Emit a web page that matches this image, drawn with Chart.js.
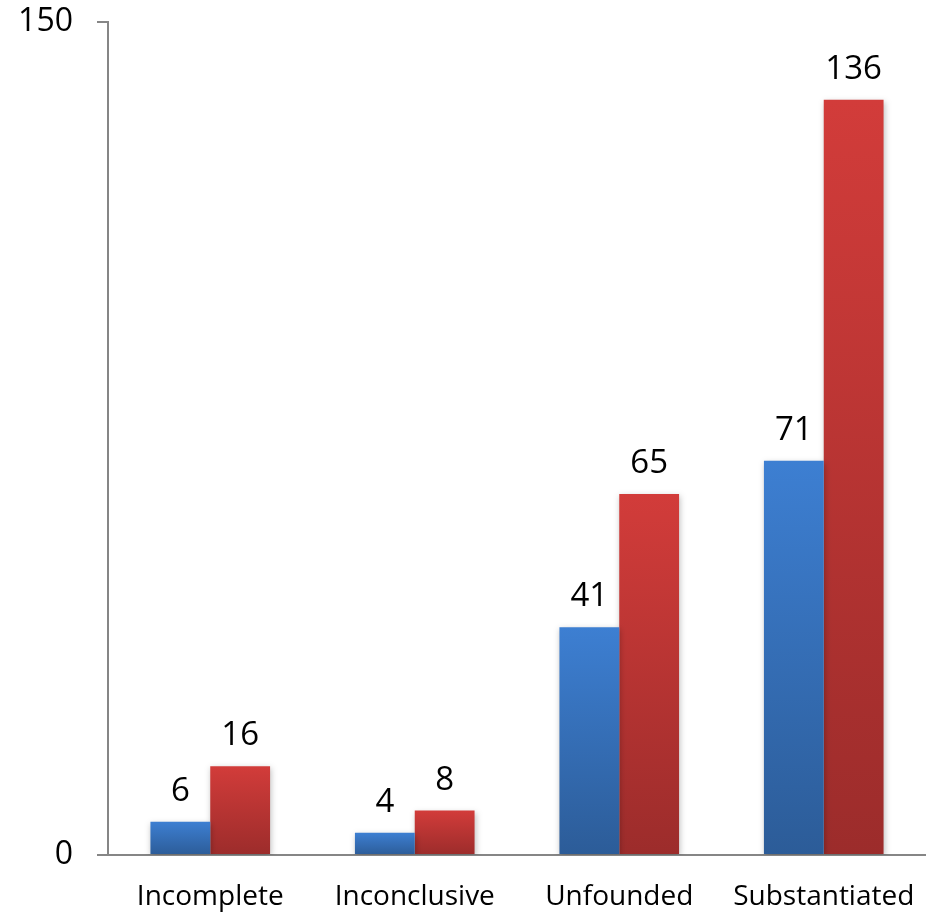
<!DOCTYPE html>
<html>
<head>
<meta charset="utf-8">
<script src="https://cdn.jsdelivr.net/npm/chart.js@4/dist/chart.umd.min.js"></script>
<style>
  html, body { margin: 0; padding: 0; background: #fff; }
  #wrap { width: 926px; height: 912px; }
</style>
</head>
<body>
<div id="wrap"><canvas id="chart"></canvas></div>
<script>
const categories = ['Incomplete', 'Inconclusive', 'Unfounded', 'Substantiated'];
const blueValues = [6, 4, 41, 71];
const redValues = [16, 8, 65, 136];
const yTicks = [0, 150];

const FONT = "'Open Sans', sans-serif";
const AXIS = '#868686';

// vertical gradient per bar, lighter at the top
function barGradient(top, bottom) {
  return ctx => {
    const chart = ctx.chart;
    if (!chart.chartArea || ctx.parsed == null) return top;
    const y = chart.scales.y;
    const y0 = y.getPixelForValue(ctx.parsed.y);
    const y1 = y.getPixelForValue(0);
    const g = chart.ctx.createLinearGradient(0, y0, 0, Math.max(y1, y0 + 1));
    g.addColorStop(0, top);
    g.addColorStop(1, bottom);
    return g;
  };
}

// value labels above each bar
const valueLabels = {
  id: 'valueLabels',
  afterDatasetsDraw(chart) {
    const c = chart.ctx;
    c.save();
    c.font = '33px ' + FONT;
    c.fillStyle = '#000';
    c.textAlign = 'center';
    c.textBaseline = 'alphabetic';
    chart.data.datasets.forEach((ds, i) => {
      chart.getDatasetMeta(i).data.forEach((bar, j) => {
        c.fillText(String(ds.data[j]), bar.x, bar.y - 21);
      });
    });
    c.restore();
  }
};

// soft shadow under the bars
const barShadow = {
  id: 'barShadow',
  beforeDatasetsDraw(chart) {
    const c = chart.ctx;
    c.save();
    c.shadowColor = 'rgba(0,0,0,0.25)';
    c.shadowBlur = 6;
    c.shadowOffsetX = 1;
    c.shadowOffsetY = 2;
  },
  afterDatasetsDraw(chart) {
    chart.ctx.restore();
  }
};

new Chart(document.getElementById('chart'), {
  type: 'bar',
  data: {
    labels: categories,
    datasets: [
      {
        label: 'Series 1',
        data: blueValues,
        backgroundColor: barGradient('#3d7fd2', '#2c5c98'),
        borderWidth: 0
      },
      {
        label: 'Series 2',
        data: redValues,
        backgroundColor: barGradient('#d23c3a', '#9c2c2b'),
        borderWidth: 0
      }
    ]
  },
  options: {
    responsive: true,
    maintainAspectRatio: false,
    animation: false,
    layout: { padding: { top: 22, right: 0, left: 0, bottom: 0 } },
    datasets: { bar: { categoryPercentage: 0.585, barPercentage: 1 } },
    plugins: {
      legend: { display: false },
      tooltip: { enabled: false }
    },
    scales: {
      x: {
        grid: { display: false, drawTicks: false },
        border: { display: true, color: AXIS, width: 2 },
        ticks: { color: '#000', font: { family: FONT, size: 28 }, padding: 25, maxRotation: 0 },
        afterFit: s => { s.height = 57; s.paddingLeft = 0; s.paddingRight = 0; }
      },
      y: {
        min: 0,
        max: 150,
        afterBuildTicks: s => { s.ticks = yTicks.map(v => ({ value: v })); },
        grid: { drawOnChartArea: false, drawTicks: true, tickLength: 11, color: AXIS, lineWidth: 2 },
        border: { display: true, color: AXIS, width: 2 },
        ticks: { color: '#000', font: { family: FONT, size: 32 }, padding: 24 },
        afterFit: s => { s.width = 108; s.paddingTop = 0; s.paddingBottom = 0; }
      }
    }
  },
  plugins: [barShadow, valueLabels]
});
</script>
</body>
</html>
